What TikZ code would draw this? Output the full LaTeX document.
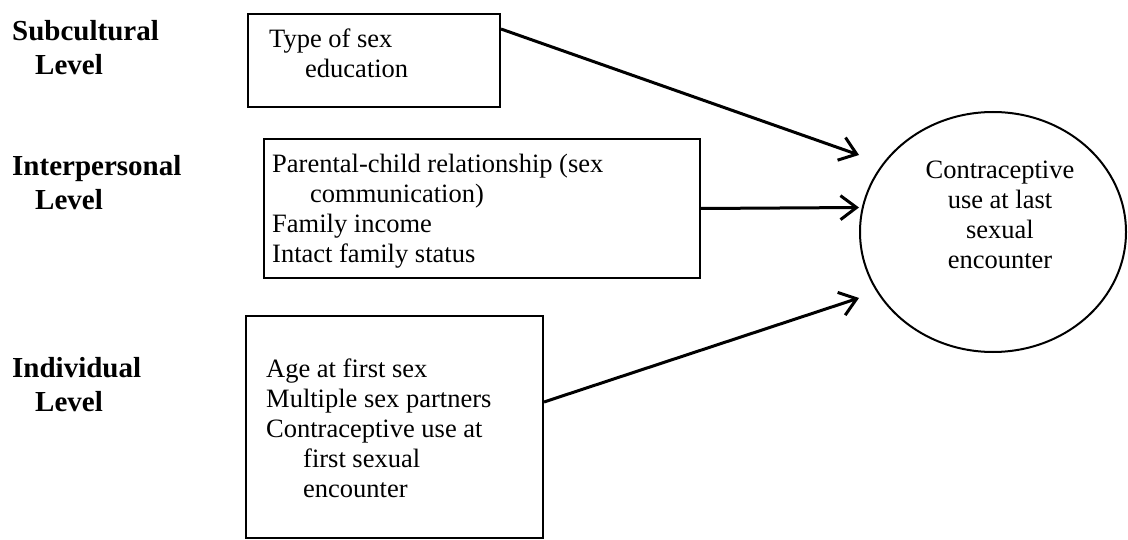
\documentclass[tikz,border=0pt]{standalone}
\usepackage{fontspec}
\setmainfont{Liberation Serif}
\usetikzlibrary{shapes.geometric,arrows.meta,calc}
\begin{document}
\begin{tikzpicture}[x=1pt,y=-1pt,
  box/.style={draw, line width=2pt, rectangle, inner sep=0pt, anchor=north west},
  txt/.style={inner sep=0pt, anchor=north west, align=left, font=\fontsize{26.5}{30}\selectfont},
  lvl/.style={txt, font=\bfseries\fontsize{29}{34}\selectfont},
  arr/.style={-{Straight Barb[length=16pt,width=24pt,line width=3pt]}, line width=3pt}]
\useasboundingbox (0,0) rectangle (1128,540);
% level labels
\node[lvl] (lsub) at (12,16.2) {\strut Subcultural\\\strut\hspace*{23pt}Level};
\node[lvl] (lint) at (12,151.2) {\strut Interpersonal\\\strut\hspace*{23pt}Level};
\node[lvl] (lind) at (12,353.2) {\strut Individual\\\strut\hspace*{23pt}Level};
% boxes
\node[box, minimum width=252pt, minimum height=93pt] (sub) at (247,13) {};
\node[box, minimum width=436pt, minimum height=139pt] (inter) at (263,138) {};
\node[box, minimum width=297pt, minimum height=222pt] (ind) at (245,315) {};
% box texts
\node[txt] (tsub) at (269,26) {\strut Type of sex\\\strut\hspace*{36pt}education};
\node[txt] (tint) at (272,151) {\strut Parental-child relationship (sex\\\strut\hspace*{38pt}communication)\\\strut Family income\\\strut Intact family status};
\node[txt] (tind) at (266,356) {\strut Age at first sex\\\strut Multiple sex partners\\\strut Contraceptive use at\\\strut\hspace*{37pt}first sexual\\\strut\hspace*{37pt}encounter};
% outcome
\node[draw, ellipse, line width=2pt, minimum width=266pt, minimum height=240pt, inner sep=0pt] (out) at (993,232) {};
\node[txt, anchor=north, align=center] (tout) at (1000,157) {\strut Contraceptive\\\strut use at last\\\strut sexual\\\strut encounter};
% arrows
\coordinate (e1) at ($(out.west)+(0,-77)$);
\coordinate (e2) at ($(out.west)+(0,-24.5)$);
\coordinate (e3) at ($(out.west)+(0,66)$);
\draw[arr] ($(sub.north east)+(0,16)$) -- (e1);
\draw[arr] (inter.east) -- (e2);
\draw[arr] ($(ind.north east)+(0,87)$) -- (e3);
\end{tikzpicture}
\end{document}
